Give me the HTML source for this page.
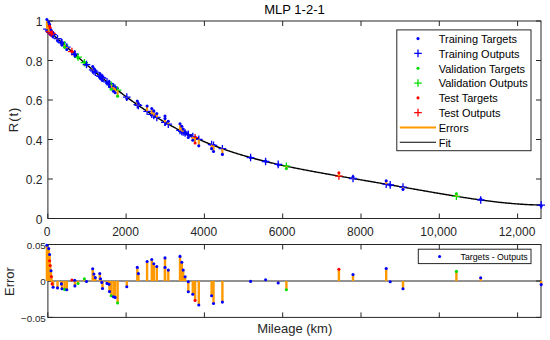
<!DOCTYPE html>
<html><head><meta charset="utf-8"><style>
html,body{margin:0;padding:0;background:#fff;width:550px;height:340px;overflow:hidden}
svg text{font-family:"Liberation Sans",sans-serif}
</style></head><body>
<svg width="550" height="340" viewBox="0 0 550 340" style="position:absolute;left:0;top:0"><rect x="0" y="0" width="550" height="340" fill="#fff"/><rect x="47.9" y="21.0" width="493.1" height="197.5" fill="none" stroke="#262626" stroke-width="1"/><path d="M47.80,218.5V213.5M47.80,21.0V26.0" stroke="#262626" stroke-width="1"/><path d="M126.10,218.5V213.5M126.10,21.0V26.0" stroke="#262626" stroke-width="1"/><path d="M204.40,218.5V213.5M204.40,21.0V26.0" stroke="#262626" stroke-width="1"/><path d="M282.70,218.5V213.5M282.70,21.0V26.0" stroke="#262626" stroke-width="1"/><path d="M361.00,218.5V213.5M361.00,21.0V26.0" stroke="#262626" stroke-width="1"/><path d="M439.30,218.5V213.5M439.30,21.0V26.0" stroke="#262626" stroke-width="1"/><path d="M517.60,218.5V213.5M517.60,21.0V26.0" stroke="#262626" stroke-width="1"/><path d="M47.9,218.50H52.9M541.0,218.50H536.0" stroke="#262626" stroke-width="1"/><path d="M47.9,179.00H52.9M541.0,179.00H536.0" stroke="#262626" stroke-width="1"/><path d="M47.9,139.50H52.9M541.0,139.50H536.0" stroke="#262626" stroke-width="1"/><path d="M47.9,100.00H52.9M541.0,100.00H536.0" stroke="#262626" stroke-width="1"/><path d="M47.9,60.50H52.9M541.0,60.50H536.0" stroke="#262626" stroke-width="1"/><path d="M47.9,21.00H52.9M541.0,21.00H536.0" stroke="#262626" stroke-width="1"/><rect x="47.9" y="244.5" width="493.1" height="72.89999999999998" fill="none" stroke="#262626" stroke-width="1"/><path d="M47.80,317.4V312.4M47.80,244.5V249.5" stroke="#262626" stroke-width="1"/><path d="M126.10,317.4V312.4M126.10,244.5V249.5" stroke="#262626" stroke-width="1"/><path d="M204.40,317.4V312.4M204.40,244.5V249.5" stroke="#262626" stroke-width="1"/><path d="M282.70,317.4V312.4M282.70,244.5V249.5" stroke="#262626" stroke-width="1"/><path d="M361.00,317.4V312.4M361.00,244.5V249.5" stroke="#262626" stroke-width="1"/><path d="M439.30,317.4V312.4M439.30,244.5V249.5" stroke="#262626" stroke-width="1"/><path d="M517.60,317.4V312.4M517.60,244.5V249.5" stroke="#262626" stroke-width="1"/><path d="M47.9,244.50H52.9M541.0,244.50H536.0" stroke="#262626" stroke-width="1"/><path d="M47.9,281.00H52.9M541.0,281.00H536.0" stroke="#262626" stroke-width="1"/><path d="M47.9,317.40H52.9M541.0,317.40H536.0" stroke="#262626" stroke-width="1"/><g><path d="M47.80,29.98 L48.80,30.87 L49.80,31.77 L50.80,32.66 L51.80,33.56 L52.80,34.45 L53.80,35.35 L54.80,36.25 L55.80,37.15 L56.80,38.05 L57.80,38.95 L58.80,39.85 L59.80,40.75 L60.80,41.65 L61.80,42.55 L62.80,43.45 L63.80,44.35 L64.80,45.25 L65.80,46.15 L66.80,47.05 L67.80,47.95 L68.80,48.85 L69.80,49.75 L70.80,50.64 L71.80,51.54 L72.80,52.43 L73.80,53.33 L74.80,54.22 L75.80,55.11 L76.80,56.00 L77.80,56.89 L78.80,57.77 L79.80,58.66 L80.80,59.54 L81.80,60.42 L82.80,61.30 L83.80,62.18 L84.80,63.05 L85.80,63.93 L86.80,64.80 L87.80,65.66 L88.80,66.53 L89.80,67.39 L90.80,68.26 L91.80,69.11 L92.80,69.97 L93.80,70.82 L94.80,71.67 L95.80,72.52 L96.80,73.37 L97.80,74.21 L98.80,75.05 L99.80,75.89 L100.80,76.72 L101.80,77.55 L102.80,78.38 L103.80,79.20 L104.80,80.02 L105.80,80.84 L106.80,81.65 L107.80,82.46 L108.80,83.27 L109.80,84.07 L110.80,84.87 L111.80,85.67 L112.80,86.46 L113.80,87.25 L114.80,88.04 L115.80,88.82 L116.80,89.60 L117.80,90.37 L118.80,91.14 L119.80,91.91 L120.80,92.67 L121.80,93.43 L122.80,94.19 L123.80,94.94 L124.80,95.69 L125.80,96.43 L126.80,97.17 L127.80,97.91 L128.80,98.64 L129.80,99.37 L130.80,100.09 L131.80,100.81 L132.80,101.52 L133.80,102.23 L134.80,102.94 L135.80,103.64 L136.80,104.34 L137.80,105.04 L138.80,105.73 L139.80,106.41 L140.80,107.09 L141.80,107.77 L142.80,108.45 L143.80,109.11 L144.80,109.78 L145.80,110.44 L146.80,111.09 L147.80,111.75 L148.80,112.39 L149.80,113.04 L150.80,113.68 L151.80,114.31 L152.80,114.94 L153.80,115.57 L154.80,116.19 L155.80,116.80 L156.80,117.42 L157.80,118.03 L158.80,118.63 L159.80,119.23 L160.80,119.83 L161.80,120.42 L162.80,121.00 L163.80,121.59 L164.80,122.16 L165.80,122.74 L166.80,123.31 L167.80,123.87 L168.80,124.44 L169.80,124.99 L170.80,125.55 L171.80,126.09 L172.80,126.64 L173.80,127.18 L174.80,127.72 L175.80,128.25 L176.80,128.77 L177.80,129.30 L178.80,129.82 L179.80,130.33 L180.80,130.84 L181.80,131.35 L182.80,131.85 L183.80,132.35 L184.80,132.85 L185.80,133.34 L186.80,133.82 L187.80,134.31 L188.80,134.79 L189.80,135.26 L190.80,135.73 L191.80,136.20 L192.80,136.66 L193.80,137.12 L194.80,137.57 L195.80,138.03 L196.80,138.47 L197.80,138.92 L198.80,139.36 L199.80,139.79 L200.80,140.23 L201.80,140.65 L202.80,141.08 L203.80,141.50 L204.80,141.92 L205.80,142.33 L206.80,142.74 L207.80,143.15 L208.80,143.55 L209.80,143.95 L210.80,144.35 L211.80,144.74 L212.80,145.13 L213.80,145.51 L214.80,145.90 L215.80,146.28 L216.80,146.65 L217.80,147.02 L218.80,147.39 L219.80,147.76 L220.80,148.12 L221.80,148.48 L222.80,148.84 L223.80,149.19 L224.80,149.54 L225.80,149.88 L226.80,150.23 L227.80,150.57 L228.80,150.91 L229.80,151.24 L230.80,151.57 L231.80,151.90 L232.80,152.23 L233.80,152.55 L234.80,152.87 L235.80,153.18 L236.80,153.50 L237.80,153.81 L238.80,154.12 L239.80,154.42 L240.80,154.73 L241.80,155.03 L242.80,155.33 L243.80,155.62 L244.80,155.91 L245.80,156.21 L246.80,156.49 L247.80,156.78 L248.80,157.06 L249.80,157.34 L250.80,157.62 L251.80,157.90 L252.80,158.17 L253.80,158.44 L254.80,158.71 L255.80,158.98 L256.80,159.24 L257.80,159.50 L258.80,159.76 L259.80,160.02 L260.80,160.28 L261.80,160.53 L262.80,160.78 L263.80,161.03 L264.80,161.28 L265.80,161.52 L266.80,161.77 L267.80,162.01 L268.80,162.25 L269.80,162.49 L270.80,162.73 L271.80,162.96 L272.80,163.19 L273.80,163.42 L274.80,163.65 L275.80,163.88 L276.80,164.11 L277.80,164.33 L278.80,164.56 L279.80,164.78 L280.80,165.00 L281.80,165.22 L282.80,165.43 L283.80,165.65 L284.80,165.86 L285.80,166.08 L286.80,166.29 L287.80,166.50 L288.80,166.71 L289.80,166.92 L290.80,167.12 L291.80,167.33 L292.80,167.53 L293.80,167.74 L294.80,167.94 L295.80,168.14 L296.80,168.34 L297.80,168.54 L298.80,168.73 L299.80,168.93 L300.80,169.13 L301.80,169.32 L302.80,169.51 L303.80,169.71 L304.80,169.90 L305.80,170.09 L306.80,170.28 L307.80,170.47 L308.80,170.66 L309.80,170.84 L310.80,171.03 L311.80,171.22 L312.80,171.40 L313.80,171.59 L314.80,171.77 L315.80,171.96 L316.80,172.14 L317.80,172.32 L318.80,172.50 L319.80,172.68 L320.80,172.86 L321.80,173.04 L322.80,173.22 L323.80,173.40 L324.80,173.58 L325.80,173.76 L326.80,173.94 L327.80,174.11 L328.80,174.29 L329.80,174.47 L330.80,174.64 L331.80,174.82 L332.80,174.99 L333.80,175.17 L334.80,175.34 L335.80,175.52 L336.80,175.69 L337.80,175.87 L338.80,176.04 L339.80,176.21 L340.80,176.39 L341.80,176.56 L342.80,176.73 L343.80,176.91 L344.80,177.08 L345.80,177.25 L346.80,177.42 L347.80,177.60 L348.80,177.77 L349.80,177.94 L350.80,178.11 L351.80,178.28 L352.80,178.46 L353.80,178.63 L354.80,178.80 L355.80,178.97 L356.80,179.14 L357.80,179.31 L358.80,179.49 L359.80,179.66 L360.80,179.83 L361.80,180.00 L362.80,180.17 L363.80,180.34 L364.80,180.52 L365.80,180.69 L366.80,180.86 L367.80,181.03 L368.80,181.20 L369.80,181.38 L370.80,181.55 L371.80,181.72 L372.80,181.89 L373.80,182.06 L374.80,182.24 L375.80,182.41 L376.80,182.58 L377.80,182.75 L378.80,182.93 L379.80,183.10 L380.80,183.27 L381.80,183.45 L382.80,183.62 L383.80,183.79 L384.80,183.97 L385.80,184.14 L386.80,184.31 L387.80,184.49 L388.80,184.66 L389.80,184.84 L390.80,185.01 L391.80,185.18 L392.80,185.36 L393.80,185.53 L394.80,185.71 L395.80,185.88 L396.80,186.06 L397.80,186.23 L398.80,186.41 L399.80,186.58 L400.80,186.76 L401.80,186.93 L402.80,187.11 L403.80,187.28 L404.80,187.46 L405.80,187.63 L406.80,187.81 L407.80,187.98 L408.80,188.16 L409.80,188.33 L410.80,188.51 L411.80,188.68 L412.80,188.86 L413.80,189.03 L414.80,189.21 L415.80,189.38 L416.80,189.56 L417.80,189.73 L418.80,189.91 L419.80,190.08 L420.80,190.26 L421.80,190.43 L422.80,190.61 L423.80,190.78 L424.80,190.96 L425.80,191.13 L426.80,191.30 L427.80,191.48 L428.80,191.65 L429.80,191.82 L430.80,192.00 L431.80,192.17 L432.80,192.34 L433.80,192.52 L434.80,192.69 L435.80,192.86 L436.80,193.03 L437.80,193.20 L438.80,193.37 L439.80,193.54 L440.80,193.71 L441.80,193.88 L442.80,194.05 L443.80,194.22 L444.80,194.39 L445.80,194.56 L446.80,194.72 L447.80,194.89 L448.80,195.06 L449.80,195.22 L450.80,195.39 L451.80,195.55 L452.80,195.71 L453.80,195.88 L454.80,196.04 L455.80,196.20 L456.80,196.36 L457.80,196.52 L458.80,196.68 L459.80,196.84 L460.80,197.00 L461.80,197.16 L462.80,197.32 L463.80,197.47 L464.80,197.63 L465.80,197.78 L466.80,197.93 L467.80,198.09 L468.80,198.24 L469.80,198.39 L470.80,198.54 L471.80,198.69 L472.80,198.83 L473.80,198.98 L474.80,199.12 L475.80,199.27 L476.80,199.41 L477.80,199.55 L478.80,199.69 L479.80,199.83 L480.80,199.97 L481.80,200.11 L482.80,200.24 L483.80,200.38 L484.80,200.51 L485.80,200.64 L486.80,200.77 L487.80,200.90 L488.80,201.03 L489.80,201.15 L490.80,201.28 L491.80,201.40 L492.80,201.52 L493.80,201.64 L494.80,201.76 L495.80,201.88 L496.80,201.99 L497.80,202.11 L498.80,202.22 L499.80,202.33 L500.80,202.44 L501.80,202.54 L502.80,202.65 L503.80,202.75 L504.80,202.85 L505.80,202.95 L506.80,203.05 L507.80,203.14 L508.80,203.23 L509.80,203.32 L510.80,203.41 L511.80,203.50 L512.80,203.59 L513.80,203.67 L514.80,203.75 L515.80,203.83 L516.80,203.91 L517.80,203.98 L518.80,204.05 L519.80,204.12 L520.80,204.19 L521.80,204.25 L522.80,204.32 L523.80,204.38 L524.80,204.44 L525.80,204.49 L526.80,204.55 L527.80,204.60 L528.80,204.64 L529.80,204.69 L530.80,204.73 L531.80,204.78 L532.80,204.81 L533.80,204.85 L534.80,204.88 L535.80,204.91 L536.80,204.94 L537.80,204.97 L538.80,204.99 L539.80,205.01 L540.80,205.02" fill="none" stroke="#000" stroke-width="1.4"/><path d="M43.10,29.18H50.70M46.90,25.38V32.98" stroke="#0000ff" stroke-width="1.3"/><path d="M44.90,30.78H52.50M48.70,26.98V34.58" stroke="#0000ff" stroke-width="1.3"/><path d="M45.80,31.59H53.40M49.60,27.79V35.39" stroke="#0000ff" stroke-width="1.3"/><path d="M45.80,31.59H53.40M49.60,27.79V35.39" stroke="#ff0000" stroke-width="1.3"/><path d="M46.40,32.12H54.00M50.20,28.32V35.92" stroke="#ff0000" stroke-width="1.3"/><path d="M47.20,32.84H54.80M51.00,29.04V36.64" stroke="#0000ff" stroke-width="1.3"/><path d="M47.60,33.20H55.20M51.40,29.40V37.00" stroke="#ff0000" stroke-width="1.3"/><path d="M48.30,33.82H55.90M52.10,30.02V37.62" stroke="#ff0000" stroke-width="1.3"/><path d="M49.30,34.72H56.90M53.10,30.92V38.52" stroke="#0000ff" stroke-width="1.3"/><path d="M53.70,38.68H61.30M57.50,34.88V42.48" stroke="#0000ff" stroke-width="1.3"/><path d="M57.60,42.19H65.20M61.40,38.39V45.99" stroke="#0000ff" stroke-width="1.3"/><path d="M58.20,42.73H65.80M62.00,38.93V46.53" stroke="#0000ff" stroke-width="1.3"/><path d="M60.80,45.07H68.40M64.60,41.27V48.87" stroke="#00e000" stroke-width="1.3"/><path d="M63.00,47.05H70.60M66.80,43.25V50.85" stroke="#0000ff" stroke-width="1.3"/><path d="M68.10,51.63H75.70M71.90,47.83V55.43" stroke="#ff0000" stroke-width="1.3"/><path d="M70.90,54.13H78.50M74.70,50.33V57.93" stroke="#0000ff" stroke-width="1.3"/><path d="M71.10,54.31H78.70M74.90,50.51V58.11" stroke="#0000ff" stroke-width="1.3"/><path d="M74.20,57.06H81.80M78.00,53.26V60.86" stroke="#00e000" stroke-width="1.3"/><path d="M80.60,62.70H88.20M84.40,58.90V66.50" stroke="#00e000" stroke-width="1.3"/><path d="M82.70,64.54H90.30M86.50,60.74V68.34" stroke="#0000ff" stroke-width="1.3"/><path d="M88.90,69.88H96.50M92.70,66.08V73.68" stroke="#0000ff" stroke-width="1.3"/><path d="M90.10,70.91H97.70M93.90,67.11V74.71" stroke="#0000ff" stroke-width="1.3"/><path d="M91.50,72.10H99.10M95.30,68.30V75.90" stroke="#0000ff" stroke-width="1.3"/><path d="M96.00,75.89H103.60M99.80,72.09V79.69" stroke="#0000ff" stroke-width="1.3"/><path d="M96.70,76.47H104.30M100.50,72.67V80.27" stroke="#0000ff" stroke-width="1.3"/><path d="M98.00,77.55H105.60M101.80,73.75V81.35" stroke="#0000ff" stroke-width="1.3"/><path d="M98.70,78.13H106.30M102.50,74.33V81.93" stroke="#0000ff" stroke-width="1.3"/><path d="M103.20,81.81H110.80M107.00,78.01V85.61" stroke="#0000ff" stroke-width="1.3"/><path d="M105.20,83.43H112.80M109.00,79.63V87.23" stroke="#0000ff" stroke-width="1.3"/><path d="M105.70,83.83H113.30M109.50,80.03V87.63" stroke="#0000ff" stroke-width="1.3"/><path d="M107.40,85.19H115.00M111.20,81.39V88.99" stroke="#00e000" stroke-width="1.3"/><path d="M109.70,87.02H117.30M113.50,83.22V90.82" stroke="#0000ff" stroke-width="1.3"/><path d="M111.30,88.27H118.90M115.10,84.47V92.07" stroke="#0000ff" stroke-width="1.3"/><path d="M113.80,90.22H121.40M117.60,86.42V94.02" stroke="#00e000" stroke-width="1.3"/><path d="M123.00,97.17H130.60M126.80,93.37V100.97" stroke="#0000ff" stroke-width="1.3"/><path d="M133.50,104.69H141.10M137.30,100.89V108.49" stroke="#0000ff" stroke-width="1.3"/><path d="M134.60,105.45H142.20M138.40,101.65V109.25" stroke="#0000ff" stroke-width="1.3"/><path d="M143.30,111.29H150.90M147.10,107.49V115.09" stroke="#0000ff" stroke-width="1.3"/><path d="M148.00,114.31H155.60M151.80,110.51V118.11" stroke="#0000ff" stroke-width="1.3"/><path d="M150.00,115.57H157.60M153.80,111.77V119.37" stroke="#0000ff" stroke-width="1.3"/><path d="M153.00,117.42H160.60M156.80,113.62V121.22" stroke="#0000ff" stroke-width="1.3"/><path d="M161.20,122.28H168.80M165.00,118.48V126.08" stroke="#0000ff" stroke-width="1.3"/><path d="M161.20,122.28H168.80M165.00,118.48V126.08" stroke="#0000ff" stroke-width="1.3"/><path d="M164.50,124.16H172.10M168.30,120.36V127.96" stroke="#0000ff" stroke-width="1.3"/><path d="M176.20,130.44H183.80M180.00,126.64V134.24" stroke="#0000ff" stroke-width="1.3"/><path d="M178.00,131.35H185.60M181.80,127.55V135.15" stroke="#0000ff" stroke-width="1.3"/><path d="M179.40,132.05H187.00M183.20,128.25V135.85" stroke="#0000ff" stroke-width="1.3"/><path d="M181.30,132.99H188.90M185.10,129.19V136.79" stroke="#0000ff" stroke-width="1.3"/><path d="M184.50,134.55H192.10M188.30,130.75V138.35" stroke="#0000ff" stroke-width="1.3"/><path d="M184.50,134.55H192.10M188.30,130.75V138.35" stroke="#0000ff" stroke-width="1.3"/><path d="M189.00,136.66H196.60M192.80,132.86V140.46" stroke="#0000ff" stroke-width="1.3"/><path d="M191.30,137.71H198.90M195.10,133.91V141.51" stroke="#ff0000" stroke-width="1.3"/><path d="M195.00,139.36H202.60M198.80,135.56V143.16" stroke="#0000ff" stroke-width="1.3"/><path d="M207.80,144.66H215.40M211.60,140.86V148.46" stroke="#0000ff" stroke-width="1.3"/><path d="M209.70,145.40H217.30M213.50,141.60V149.20" stroke="#0000ff" stroke-width="1.3"/><path d="M218.60,148.69H226.20M222.40,144.89V152.49" stroke="#0000ff" stroke-width="1.3"/><path d="M246.80,157.56H254.40M250.60,153.76V161.36" stroke="#0000ff" stroke-width="1.3"/><path d="M261.80,161.48H269.40M265.60,157.68V165.28" stroke="#0000ff" stroke-width="1.3"/><path d="M274.40,164.42H282.00M278.20,160.62V168.22" stroke="#0000ff" stroke-width="1.3"/><path d="M282.60,166.20H290.20M286.40,162.40V170.00" stroke="#00e000" stroke-width="1.3"/><path d="M335.10,176.06H342.70M338.90,172.26V179.86" stroke="#ff0000" stroke-width="1.3"/><path d="M349.20,178.49H356.80M353.00,174.69V182.29" stroke="#0000ff" stroke-width="1.3"/><path d="M382.40,184.21H390.00M386.20,180.41V188.01" stroke="#0000ff" stroke-width="1.3"/><path d="M386.40,184.91H394.00M390.20,181.11V188.71" stroke="#0000ff" stroke-width="1.3"/><path d="M399.20,187.14H406.80M403.00,183.34V190.94" stroke="#0000ff" stroke-width="1.3"/><path d="M452.60,196.30H460.20M456.40,192.50V200.10" stroke="#00e000" stroke-width="1.3"/><path d="M476.90,199.96H484.50M480.70,196.16V203.76" stroke="#0000ff" stroke-width="1.3"/><path d="M537.40,205.03H545.00M541.20,201.23V208.83" stroke="#0000ff" stroke-width="1.3"/><line x1="46.90" y1="29.18" x2="46.90" y2="19.47" stroke="#ff9900" stroke-width="2"/><line x1="48.70" y1="30.78" x2="48.70" y2="21.99" stroke="#ff9900" stroke-width="2"/><line x1="49.60" y1="31.59" x2="49.60" y2="24.40" stroke="#ff9900" stroke-width="2"/><line x1="49.60" y1="31.59" x2="49.60" y2="26.11" stroke="#ff9900" stroke-width="2"/><line x1="50.20" y1="32.12" x2="50.20" y2="27.92" stroke="#ff9900" stroke-width="2"/><line x1="51.00" y1="32.84" x2="51.00" y2="30.04" stroke="#ff9900" stroke-width="2"/><line x1="51.40" y1="33.20" x2="51.40" y2="32.00" stroke="#ff9900" stroke-width="2"/><line x1="52.10" y1="33.82" x2="52.10" y2="34.61" stroke="#ff9900" stroke-width="2"/><line x1="53.10" y1="34.72" x2="53.10" y2="36.43" stroke="#ff9900" stroke-width="2"/><line x1="57.50" y1="38.68" x2="57.50" y2="40.55" stroke="#ff9900" stroke-width="2"/><line x1="61.40" y1="42.19" x2="61.40" y2="42.98" stroke="#ff9900" stroke-width="2"/><line x1="62.00" y1="42.73" x2="62.00" y2="44.85" stroke="#ff9900" stroke-width="2"/><line x1="64.60" y1="45.07" x2="64.60" y2="47.35" stroke="#ff9900" stroke-width="2"/><line x1="66.80" y1="47.05" x2="66.80" y2="49.44" stroke="#ff9900" stroke-width="2"/><line x1="71.90" y1="51.63" x2="71.90" y2="51.36" stroke="#ff9900" stroke-width="2"/><line x1="74.70" y1="54.13" x2="74.70" y2="53.91" stroke="#ff9900" stroke-width="2"/><line x1="74.90" y1="54.31" x2="74.90" y2="55.64" stroke="#ff9900" stroke-width="2"/><line x1="78.00" y1="57.06" x2="78.00" y2="57.74" stroke="#ff9900" stroke-width="2"/><line x1="84.40" y1="62.70" x2="84.40" y2="62.11" stroke="#ff9900" stroke-width="2"/><line x1="86.50" y1="64.54" x2="86.50" y2="64.67" stroke="#ff9900" stroke-width="2"/><line x1="92.70" y1="69.88" x2="92.70" y2="66.58" stroke="#ff9900" stroke-width="2"/><line x1="93.90" y1="70.91" x2="93.90" y2="69.04" stroke="#ff9900" stroke-width="2"/><line x1="95.30" y1="72.10" x2="95.30" y2="71.18" stroke="#ff9900" stroke-width="2"/><line x1="99.80" y1="75.89" x2="99.80" y2="73.88" stroke="#ff9900" stroke-width="2"/><line x1="100.50" y1="76.47" x2="100.50" y2="75.84" stroke="#ff9900" stroke-width="2"/><line x1="101.80" y1="77.55" x2="101.80" y2="77.93" stroke="#ff9900" stroke-width="2"/><line x1="102.50" y1="78.13" x2="102.50" y2="80.16" stroke="#ff9900" stroke-width="2"/><line x1="107.00" y1="81.81" x2="107.00" y2="82.46" stroke="#ff9900" stroke-width="2"/><line x1="109.00" y1="83.43" x2="109.00" y2="84.33" stroke="#ff9900" stroke-width="2"/><line x1="109.50" y1="83.83" x2="109.50" y2="86.71" stroke="#ff9900" stroke-width="2"/><line x1="111.20" y1="85.19" x2="111.20" y2="89.21" stroke="#ff9900" stroke-width="2"/><line x1="113.50" y1="87.02" x2="113.50" y2="91.30" stroke="#ff9900" stroke-width="2"/><line x1="115.10" y1="88.27" x2="115.10" y2="92.72" stroke="#ff9900" stroke-width="2"/><line x1="117.60" y1="90.22" x2="117.60" y2="96.16" stroke="#ff9900" stroke-width="2"/><line x1="126.80" y1="97.17" x2="126.80" y2="98.75" stroke="#ff9900" stroke-width="2"/><line x1="137.30" y1="104.69" x2="137.30" y2="101.00" stroke="#ff9900" stroke-width="2"/><line x1="138.40" y1="105.45" x2="138.40" y2="103.44" stroke="#ff9900" stroke-width="2"/><line x1="147.10" y1="111.29" x2="147.10" y2="106.00" stroke="#ff9900" stroke-width="2"/><line x1="151.80" y1="114.31" x2="151.80" y2="108.48" stroke="#ff9900" stroke-width="2"/><line x1="153.80" y1="115.57" x2="153.80" y2="110.90" stroke="#ff9900" stroke-width="2"/><line x1="156.80" y1="117.42" x2="156.80" y2="113.48" stroke="#ff9900" stroke-width="2"/><line x1="165.00" y1="122.28" x2="165.00" y2="116.01" stroke="#ff9900" stroke-width="2"/><line x1="165.00" y1="122.28" x2="165.00" y2="118.59" stroke="#ff9900" stroke-width="2"/><line x1="168.30" y1="124.16" x2="168.30" y2="121.20" stroke="#ff9900" stroke-width="2"/><line x1="180.00" y1="130.44" x2="180.00" y2="123.76" stroke="#ff9900" stroke-width="2"/><line x1="181.80" y1="131.35" x2="181.80" y2="126.28" stroke="#ff9900" stroke-width="2"/><line x1="183.20" y1="132.05" x2="183.20" y2="129.10" stroke="#ff9900" stroke-width="2"/><line x1="185.10" y1="132.99" x2="185.10" y2="131.83" stroke="#ff9900" stroke-width="2"/><line x1="188.30" y1="134.55" x2="188.30" y2="134.74" stroke="#ff9900" stroke-width="2"/><line x1="188.30" y1="134.55" x2="188.30" y2="137.45" stroke="#ff9900" stroke-width="2"/><line x1="192.80" y1="136.66" x2="192.80" y2="140.24" stroke="#ff9900" stroke-width="2"/><line x1="195.10" y1="137.71" x2="195.10" y2="142.97" stroke="#ff9900" stroke-width="2"/><line x1="198.80" y1="139.36" x2="198.80" y2="145.87" stroke="#ff9900" stroke-width="2"/><line x1="211.60" y1="144.66" x2="211.60" y2="148.65" stroke="#ff9900" stroke-width="2"/><line x1="213.50" y1="145.40" x2="213.50" y2="151.50" stroke="#ff9900" stroke-width="2"/><line x1="222.40" y1="148.69" x2="222.40" y2="154.42" stroke="#ff9900" stroke-width="2"/><line x1="250.60" y1="157.56" x2="250.60" y2="157.67" stroke="#ff9900" stroke-width="2"/><line x1="265.60" y1="161.48" x2="265.60" y2="161.15" stroke="#ff9900" stroke-width="2"/><line x1="278.20" y1="164.42" x2="278.20" y2="164.94" stroke="#ff9900" stroke-width="2"/><line x1="286.40" y1="166.20" x2="286.40" y2="168.57" stroke="#ff9900" stroke-width="2"/><line x1="338.90" y1="176.06" x2="338.90" y2="172.86" stroke="#ff9900" stroke-width="2"/><line x1="353.00" y1="178.49" x2="353.00" y2="176.75" stroke="#ff9900" stroke-width="2"/><line x1="386.20" y1="184.21" x2="386.20" y2="180.82" stroke="#ff9900" stroke-width="2"/><line x1="390.20" y1="184.91" x2="390.20" y2="185.12" stroke="#ff9900" stroke-width="2"/><line x1="403.00" y1="187.14" x2="403.00" y2="189.26" stroke="#ff9900" stroke-width="2"/><line x1="456.40" y1="196.30" x2="456.40" y2="193.69" stroke="#ff9900" stroke-width="2"/><line x1="480.70" y1="199.96" x2="480.70" y2="199.06" stroke="#ff9900" stroke-width="2"/><line x1="541.20" y1="205.03" x2="541.20" y2="206.01" stroke="#ff9900" stroke-width="2"/><circle cx="46.90" cy="19.47" r="1.55" fill="#0000ff"/><circle cx="48.70" cy="21.99" r="1.55" fill="#0000ff"/><circle cx="49.60" cy="24.40" r="1.55" fill="#0000ff"/><circle cx="49.60" cy="26.11" r="1.55" fill="#ff0000"/><circle cx="50.20" cy="27.92" r="1.55" fill="#ff0000"/><circle cx="51.00" cy="30.04" r="1.55" fill="#0000ff"/><circle cx="51.40" cy="32.00" r="1.55" fill="#ff0000"/><circle cx="52.10" cy="34.61" r="1.55" fill="#ff0000"/><circle cx="53.10" cy="36.43" r="1.55" fill="#0000ff"/><circle cx="57.50" cy="40.55" r="1.55" fill="#0000ff"/><circle cx="61.40" cy="42.98" r="1.55" fill="#0000ff"/><circle cx="62.00" cy="44.85" r="1.55" fill="#0000ff"/><circle cx="64.60" cy="47.35" r="1.55" fill="#00e000"/><circle cx="66.80" cy="49.44" r="1.55" fill="#0000ff"/><circle cx="71.90" cy="51.36" r="1.55" fill="#ff0000"/><circle cx="74.70" cy="53.91" r="1.55" fill="#0000ff"/><circle cx="74.90" cy="55.64" r="1.55" fill="#0000ff"/><circle cx="78.00" cy="57.74" r="1.55" fill="#00e000"/><circle cx="84.40" cy="62.11" r="1.55" fill="#00e000"/><circle cx="86.50" cy="64.67" r="1.55" fill="#0000ff"/><circle cx="92.70" cy="66.58" r="1.55" fill="#0000ff"/><circle cx="93.90" cy="69.04" r="1.55" fill="#0000ff"/><circle cx="95.30" cy="71.18" r="1.55" fill="#0000ff"/><circle cx="99.80" cy="73.88" r="1.55" fill="#0000ff"/><circle cx="100.50" cy="75.84" r="1.55" fill="#0000ff"/><circle cx="101.80" cy="77.93" r="1.55" fill="#0000ff"/><circle cx="102.50" cy="80.16" r="1.55" fill="#0000ff"/><circle cx="107.00" cy="82.46" r="1.55" fill="#0000ff"/><circle cx="109.00" cy="84.33" r="1.55" fill="#0000ff"/><circle cx="109.50" cy="86.71" r="1.55" fill="#0000ff"/><circle cx="111.20" cy="89.21" r="1.55" fill="#00e000"/><circle cx="113.50" cy="91.30" r="1.55" fill="#0000ff"/><circle cx="115.10" cy="92.72" r="1.55" fill="#0000ff"/><circle cx="117.60" cy="96.16" r="1.55" fill="#00e000"/><circle cx="126.80" cy="98.75" r="1.55" fill="#0000ff"/><circle cx="137.30" cy="101.00" r="1.55" fill="#0000ff"/><circle cx="138.40" cy="103.44" r="1.55" fill="#0000ff"/><circle cx="147.10" cy="106.00" r="1.55" fill="#0000ff"/><circle cx="151.80" cy="108.48" r="1.55" fill="#0000ff"/><circle cx="153.80" cy="110.90" r="1.55" fill="#0000ff"/><circle cx="156.80" cy="113.48" r="1.55" fill="#0000ff"/><circle cx="165.00" cy="116.01" r="1.55" fill="#0000ff"/><circle cx="165.00" cy="118.59" r="1.55" fill="#0000ff"/><circle cx="168.30" cy="121.20" r="1.55" fill="#0000ff"/><circle cx="180.00" cy="123.76" r="1.55" fill="#0000ff"/><circle cx="181.80" cy="126.28" r="1.55" fill="#0000ff"/><circle cx="183.20" cy="129.10" r="1.55" fill="#0000ff"/><circle cx="185.10" cy="131.83" r="1.55" fill="#0000ff"/><circle cx="188.30" cy="134.74" r="1.55" fill="#0000ff"/><circle cx="188.30" cy="137.45" r="1.55" fill="#0000ff"/><circle cx="192.80" cy="140.24" r="1.55" fill="#0000ff"/><circle cx="195.10" cy="142.97" r="1.55" fill="#ff0000"/><circle cx="198.80" cy="145.87" r="1.55" fill="#0000ff"/><circle cx="211.60" cy="148.65" r="1.55" fill="#0000ff"/><circle cx="213.50" cy="151.50" r="1.55" fill="#0000ff"/><circle cx="222.40" cy="154.42" r="1.55" fill="#0000ff"/><circle cx="250.60" cy="157.67" r="1.55" fill="#0000ff"/><circle cx="265.60" cy="161.15" r="1.55" fill="#0000ff"/><circle cx="278.20" cy="164.94" r="1.55" fill="#0000ff"/><circle cx="286.40" cy="168.57" r="1.55" fill="#00e000"/><circle cx="338.90" cy="172.86" r="1.55" fill="#ff0000"/><circle cx="353.00" cy="176.75" r="1.55" fill="#0000ff"/><circle cx="386.20" cy="180.82" r="1.55" fill="#0000ff"/><circle cx="390.20" cy="185.12" r="1.55" fill="#0000ff"/><circle cx="403.00" cy="189.26" r="1.55" fill="#0000ff"/><circle cx="456.40" cy="193.69" r="1.55" fill="#00e000"/><circle cx="480.70" cy="199.06" r="1.55" fill="#0000ff"/><circle cx="541.20" cy="206.01" r="1.55" fill="#0000ff"/></g><g><line x1="47.9" y1="281.0" x2="541.0" y2="281.0" stroke="#262626" stroke-width="1.2"/><line x1="46.90" y1="281.0" x2="46.90" y2="245.20" stroke="#ff9900" stroke-width="2.4"/><line x1="48.70" y1="281.0" x2="48.70" y2="248.60" stroke="#ff9900" stroke-width="2.4"/><line x1="49.60" y1="281.0" x2="49.60" y2="254.50" stroke="#ff9900" stroke-width="2.4"/><line x1="49.60" y1="281.0" x2="49.60" y2="260.80" stroke="#ff9900" stroke-width="2.4"/><line x1="50.20" y1="281.0" x2="50.20" y2="265.50" stroke="#ff9900" stroke-width="2.4"/><line x1="51.00" y1="281.0" x2="51.00" y2="270.70" stroke="#ff9900" stroke-width="2.4"/><line x1="51.40" y1="281.0" x2="51.40" y2="276.60" stroke="#ff9900" stroke-width="2.4"/><line x1="52.10" y1="281.0" x2="52.10" y2="283.90" stroke="#ff9900" stroke-width="2.4"/><line x1="53.10" y1="281.0" x2="53.10" y2="287.30" stroke="#ff9900" stroke-width="2.4"/><line x1="57.50" y1="281.0" x2="57.50" y2="287.90" stroke="#ff9900" stroke-width="2.4"/><line x1="61.40" y1="281.0" x2="61.40" y2="283.90" stroke="#ff9900" stroke-width="2.4"/><line x1="62.00" y1="281.0" x2="62.00" y2="288.80" stroke="#ff9900" stroke-width="2.4"/><line x1="64.60" y1="281.0" x2="64.60" y2="289.40" stroke="#ff9900" stroke-width="2.4"/><line x1="66.80" y1="281.0" x2="66.80" y2="289.80" stroke="#ff9900" stroke-width="2.4"/><line x1="71.90" y1="281.0" x2="71.90" y2="280.00" stroke="#ff9900" stroke-width="2.4"/><line x1="74.70" y1="281.0" x2="74.70" y2="280.20" stroke="#ff9900" stroke-width="2.4"/><line x1="74.90" y1="281.0" x2="74.90" y2="285.90" stroke="#ff9900" stroke-width="2.4"/><line x1="78.00" y1="281.0" x2="78.00" y2="283.50" stroke="#ff9900" stroke-width="2.4"/><line x1="84.40" y1="281.0" x2="84.40" y2="278.80" stroke="#ff9900" stroke-width="2.4"/><line x1="86.50" y1="281.0" x2="86.50" y2="281.50" stroke="#ff9900" stroke-width="2.4"/><line x1="92.70" y1="281.0" x2="92.70" y2="268.80" stroke="#ff9900" stroke-width="2.4"/><line x1="93.90" y1="281.0" x2="93.90" y2="274.10" stroke="#ff9900" stroke-width="2.4"/><line x1="95.30" y1="281.0" x2="95.30" y2="277.60" stroke="#ff9900" stroke-width="2.4"/><line x1="99.80" y1="281.0" x2="99.80" y2="273.60" stroke="#ff9900" stroke-width="2.4"/><line x1="100.50" y1="281.0" x2="100.50" y2="278.70" stroke="#ff9900" stroke-width="2.4"/><line x1="101.80" y1="281.0" x2="101.80" y2="282.40" stroke="#ff9900" stroke-width="2.4"/><line x1="102.50" y1="281.0" x2="102.50" y2="288.50" stroke="#ff9900" stroke-width="2.4"/><line x1="107.00" y1="281.0" x2="107.00" y2="283.40" stroke="#ff9900" stroke-width="2.4"/><line x1="109.00" y1="281.0" x2="109.00" y2="284.30" stroke="#ff9900" stroke-width="2.4"/><line x1="109.50" y1="281.0" x2="109.50" y2="291.60" stroke="#ff9900" stroke-width="2.4"/><line x1="111.20" y1="281.0" x2="111.20" y2="295.80" stroke="#ff9900" stroke-width="2.4"/><line x1="113.50" y1="281.0" x2="113.50" y2="296.80" stroke="#ff9900" stroke-width="2.4"/><line x1="115.10" y1="281.0" x2="115.10" y2="297.40" stroke="#ff9900" stroke-width="2.4"/><line x1="117.60" y1="281.0" x2="117.60" y2="302.90" stroke="#ff9900" stroke-width="2.4"/><line x1="126.80" y1="281.0" x2="126.80" y2="286.80" stroke="#ff9900" stroke-width="2.4"/><line x1="137.30" y1="281.0" x2="137.30" y2="267.40" stroke="#ff9900" stroke-width="2.4"/><line x1="138.40" y1="281.0" x2="138.40" y2="273.60" stroke="#ff9900" stroke-width="2.4"/><line x1="147.10" y1="281.0" x2="147.10" y2="261.50" stroke="#ff9900" stroke-width="2.4"/><line x1="151.80" y1="281.0" x2="151.80" y2="259.50" stroke="#ff9900" stroke-width="2.4"/><line x1="153.80" y1="281.0" x2="153.80" y2="263.80" stroke="#ff9900" stroke-width="2.4"/><line x1="156.80" y1="281.0" x2="156.80" y2="266.50" stroke="#ff9900" stroke-width="2.4"/><line x1="165.00" y1="281.0" x2="165.00" y2="257.90" stroke="#ff9900" stroke-width="2.4"/><line x1="165.00" y1="281.0" x2="165.00" y2="267.40" stroke="#ff9900" stroke-width="2.4"/><line x1="168.30" y1="281.0" x2="168.30" y2="270.10" stroke="#ff9900" stroke-width="2.4"/><line x1="180.00" y1="281.0" x2="180.00" y2="256.40" stroke="#ff9900" stroke-width="2.4"/><line x1="181.80" y1="281.0" x2="181.80" y2="262.30" stroke="#ff9900" stroke-width="2.4"/><line x1="183.20" y1="281.0" x2="183.20" y2="270.10" stroke="#ff9900" stroke-width="2.4"/><line x1="185.10" y1="281.0" x2="185.10" y2="276.70" stroke="#ff9900" stroke-width="2.4"/><line x1="188.30" y1="281.0" x2="188.30" y2="281.70" stroke="#ff9900" stroke-width="2.4"/><line x1="188.30" y1="281.0" x2="188.30" y2="291.70" stroke="#ff9900" stroke-width="2.4"/><line x1="192.80" y1="281.0" x2="192.80" y2="294.20" stroke="#ff9900" stroke-width="2.4"/><line x1="195.10" y1="281.0" x2="195.10" y2="300.40" stroke="#ff9900" stroke-width="2.4"/><line x1="198.80" y1="281.0" x2="198.80" y2="305.00" stroke="#ff9900" stroke-width="2.4"/><line x1="211.60" y1="281.0" x2="211.60" y2="295.70" stroke="#ff9900" stroke-width="2.4"/><line x1="213.50" y1="281.0" x2="213.50" y2="303.50" stroke="#ff9900" stroke-width="2.4"/><line x1="222.40" y1="281.0" x2="222.40" y2="302.10" stroke="#ff9900" stroke-width="2.4"/><line x1="250.60" y1="281.0" x2="250.60" y2="281.40" stroke="#ff9900" stroke-width="2.4"/><line x1="265.60" y1="281.0" x2="265.60" y2="279.80" stroke="#ff9900" stroke-width="2.4"/><line x1="278.20" y1="281.0" x2="278.20" y2="282.90" stroke="#ff9900" stroke-width="2.4"/><line x1="286.40" y1="281.0" x2="286.40" y2="289.70" stroke="#ff9900" stroke-width="2.4"/><line x1="338.90" y1="281.0" x2="338.90" y2="269.20" stroke="#ff9900" stroke-width="2.4"/><line x1="353.00" y1="281.0" x2="353.00" y2="274.60" stroke="#ff9900" stroke-width="2.4"/><line x1="386.20" y1="281.0" x2="386.20" y2="268.50" stroke="#ff9900" stroke-width="2.4"/><line x1="390.20" y1="281.0" x2="390.20" y2="281.80" stroke="#ff9900" stroke-width="2.4"/><line x1="403.00" y1="281.0" x2="403.00" y2="288.80" stroke="#ff9900" stroke-width="2.4"/><line x1="456.40" y1="281.0" x2="456.40" y2="271.40" stroke="#ff9900" stroke-width="2.4"/><line x1="480.70" y1="281.0" x2="480.70" y2="277.70" stroke="#ff9900" stroke-width="2.4"/><line x1="541.20" y1="281.0" x2="541.20" y2="284.60" stroke="#ff9900" stroke-width="2.4"/><circle cx="46.90" cy="245.20" r="1.55" fill="#0000ff"/><circle cx="48.70" cy="248.60" r="1.55" fill="#0000ff"/><circle cx="49.60" cy="254.50" r="1.55" fill="#0000ff"/><circle cx="49.60" cy="260.80" r="1.55" fill="#ff0000"/><circle cx="50.20" cy="265.50" r="1.55" fill="#ff0000"/><circle cx="51.00" cy="270.70" r="1.55" fill="#0000ff"/><circle cx="51.40" cy="276.60" r="1.55" fill="#ff0000"/><circle cx="52.10" cy="283.90" r="1.55" fill="#ff0000"/><circle cx="53.10" cy="287.30" r="1.55" fill="#0000ff"/><circle cx="57.50" cy="287.90" r="1.55" fill="#0000ff"/><circle cx="61.40" cy="283.90" r="1.55" fill="#0000ff"/><circle cx="62.00" cy="288.80" r="1.55" fill="#0000ff"/><circle cx="64.60" cy="289.40" r="1.55" fill="#00e000"/><circle cx="66.80" cy="289.80" r="1.55" fill="#0000ff"/><circle cx="71.90" cy="280.00" r="1.55" fill="#ff0000"/><circle cx="74.70" cy="280.20" r="1.55" fill="#0000ff"/><circle cx="74.90" cy="285.90" r="1.55" fill="#0000ff"/><circle cx="78.00" cy="283.50" r="1.55" fill="#00e000"/><circle cx="84.40" cy="278.80" r="1.55" fill="#00e000"/><circle cx="86.50" cy="281.50" r="1.55" fill="#0000ff"/><circle cx="92.70" cy="268.80" r="1.55" fill="#0000ff"/><circle cx="93.90" cy="274.10" r="1.55" fill="#0000ff"/><circle cx="95.30" cy="277.60" r="1.55" fill="#0000ff"/><circle cx="99.80" cy="273.60" r="1.55" fill="#0000ff"/><circle cx="100.50" cy="278.70" r="1.55" fill="#0000ff"/><circle cx="101.80" cy="282.40" r="1.55" fill="#0000ff"/><circle cx="102.50" cy="288.50" r="1.55" fill="#0000ff"/><circle cx="107.00" cy="283.40" r="1.55" fill="#0000ff"/><circle cx="109.00" cy="284.30" r="1.55" fill="#0000ff"/><circle cx="109.50" cy="291.60" r="1.55" fill="#0000ff"/><circle cx="111.20" cy="295.80" r="1.55" fill="#00e000"/><circle cx="113.50" cy="296.80" r="1.55" fill="#0000ff"/><circle cx="115.10" cy="297.40" r="1.55" fill="#0000ff"/><circle cx="117.60" cy="302.90" r="1.55" fill="#00e000"/><circle cx="126.80" cy="286.80" r="1.55" fill="#0000ff"/><circle cx="137.30" cy="267.40" r="1.55" fill="#0000ff"/><circle cx="138.40" cy="273.60" r="1.55" fill="#0000ff"/><circle cx="147.10" cy="261.50" r="1.55" fill="#0000ff"/><circle cx="151.80" cy="259.50" r="1.55" fill="#0000ff"/><circle cx="153.80" cy="263.80" r="1.55" fill="#0000ff"/><circle cx="156.80" cy="266.50" r="1.55" fill="#0000ff"/><circle cx="165.00" cy="257.90" r="1.55" fill="#0000ff"/><circle cx="165.00" cy="267.40" r="1.55" fill="#0000ff"/><circle cx="168.30" cy="270.10" r="1.55" fill="#0000ff"/><circle cx="180.00" cy="256.40" r="1.55" fill="#0000ff"/><circle cx="181.80" cy="262.30" r="1.55" fill="#0000ff"/><circle cx="183.20" cy="270.10" r="1.55" fill="#0000ff"/><circle cx="185.10" cy="276.70" r="1.55" fill="#0000ff"/><circle cx="188.30" cy="281.70" r="1.55" fill="#0000ff"/><circle cx="188.30" cy="291.70" r="1.55" fill="#0000ff"/><circle cx="192.80" cy="294.20" r="1.55" fill="#0000ff"/><circle cx="195.10" cy="300.40" r="1.55" fill="#ff0000"/><circle cx="198.80" cy="305.00" r="1.55" fill="#0000ff"/><circle cx="211.60" cy="295.70" r="1.55" fill="#0000ff"/><circle cx="213.50" cy="303.50" r="1.55" fill="#0000ff"/><circle cx="222.40" cy="302.10" r="1.55" fill="#0000ff"/><circle cx="250.60" cy="281.40" r="1.55" fill="#0000ff"/><circle cx="265.60" cy="279.80" r="1.55" fill="#0000ff"/><circle cx="278.20" cy="282.90" r="1.55" fill="#0000ff"/><circle cx="286.40" cy="289.70" r="1.55" fill="#00e000"/><circle cx="338.90" cy="269.20" r="1.55" fill="#ff0000"/><circle cx="353.00" cy="274.60" r="1.55" fill="#0000ff"/><circle cx="386.20" cy="268.50" r="1.55" fill="#0000ff"/><circle cx="390.20" cy="281.80" r="1.55" fill="#0000ff"/><circle cx="403.00" cy="288.80" r="1.55" fill="#0000ff"/><circle cx="456.40" cy="271.40" r="1.55" fill="#00e000"/><circle cx="480.70" cy="277.70" r="1.55" fill="#0000ff"/><circle cx="541.20" cy="284.60" r="1.55" fill="#0000ff"/></g><rect x="396.8" y="29.9" width="134.2" height="120.79999999999998" fill="#fff" stroke="#262626" stroke-width="1"/><circle cx="418" cy="38.60" r="1.55" fill="#0000ff"/><text x="438.7" y="43.00" font-size="11" fill="#000">Training Targets</text><path d="M414.2,53.41H421.8M418,49.61V57.21" stroke="#0000ff" stroke-width="1.3"/><text x="438.7" y="57.81" font-size="11" fill="#000">Training Outputs</text><circle cx="418" cy="68.22" r="1.55" fill="#00e000"/><text x="438.7" y="72.62" font-size="11" fill="#000">Validation Targets</text><path d="M414.2,83.03H421.8M418,79.23V86.83" stroke="#00e000" stroke-width="1.3"/><text x="438.7" y="87.43" font-size="11" fill="#000">Validation Outputs</text><circle cx="418" cy="97.84" r="1.55" fill="#ff0000"/><text x="438.7" y="102.24" font-size="11" fill="#000">Test Targets</text><path d="M414.2,112.65H421.8M418,108.85V116.45" stroke="#ff0000" stroke-width="1.3"/><text x="438.7" y="117.05" font-size="11" fill="#000">Test Outputs</text><line x1="399.8" y1="127.46" x2="436" y2="127.46" stroke="#ff9900" stroke-width="2"/><text x="438.7" y="131.86" font-size="11" fill="#000">Errors</text><line x1="399.8" y1="142.27" x2="436" y2="142.27" stroke="#000" stroke-width="1.2"/><text x="438.7" y="146.67" font-size="11" fill="#000">Fit</text><rect x="418.3" y="249.2" width="112.7" height="14.4" fill="#fff" stroke="#262626" stroke-width="1"/><circle cx="439.6" cy="256.5" r="1.55" fill="#0000ff"/><text x="460.6" y="259.5" font-size="8.75" fill="#000">Targets - Outputs</text><text x="294.5" y="14.3" font-size="13" text-anchor="middle" fill="#000">MLP 1-2-1</text><text x="42.4" y="223.70" font-size="12" text-anchor="end" fill="#262626">0</text><text x="42.4" y="184.20" font-size="12" text-anchor="end" fill="#262626">0.2</text><text x="42.4" y="144.70" font-size="12" text-anchor="end" fill="#262626">0.4</text><text x="42.4" y="105.20" font-size="12" text-anchor="end" fill="#262626">0.6</text><text x="42.4" y="65.70" font-size="12" text-anchor="end" fill="#262626">0.8</text><text x="42.4" y="26.20" font-size="12" text-anchor="end" fill="#262626">1</text><text x="47.20" y="236" font-size="12" text-anchor="middle" fill="#262626">0</text><text x="125.50" y="236" font-size="12" text-anchor="middle" fill="#262626">2000</text><text x="203.80" y="236" font-size="12" text-anchor="middle" fill="#262626">4000</text><text x="282.10" y="236" font-size="12" text-anchor="middle" fill="#262626">6000</text><text x="360.40" y="236" font-size="12" text-anchor="middle" fill="#262626">8000</text><text x="438.70" y="236" font-size="12" text-anchor="middle" fill="#262626">10,000</text><text x="517.00" y="236" font-size="12" text-anchor="middle" fill="#262626">12,000</text><text x="45.8" y="248.80" font-size="9.8" text-anchor="end" fill="#262626">0.05</text><text x="45.8" y="285.30" font-size="9.8" text-anchor="end" fill="#262626">0</text><text x="45.8" y="321.70" font-size="9.8" text-anchor="end" fill="#262626">−0.05</text><text x="294.7" y="332.8" font-size="13" text-anchor="middle" fill="#262626">Mileage (km)</text><text transform="translate(18,119.4) rotate(-90)" font-size="13" text-anchor="middle" letter-spacing="1" fill="#262626">R(t)</text><text transform="translate(14.1,281.6) rotate(-90)" font-size="13" text-anchor="middle" fill="#262626">Error</text></svg>
</body></html>
